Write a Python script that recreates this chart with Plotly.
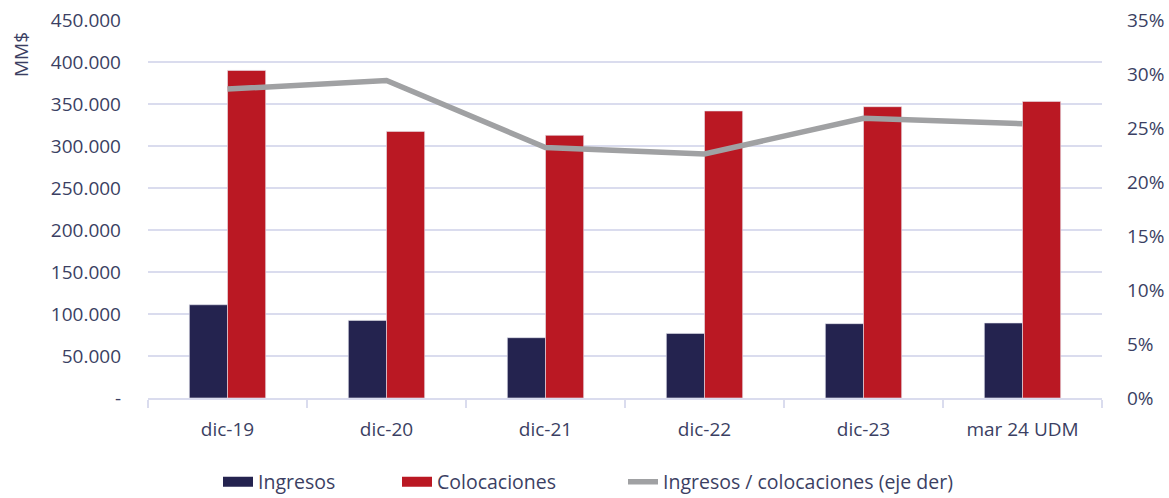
import plotly.graph_objects as go

categories = ["dic-19", "dic-20", "dic-21", "dic-22", "dic-23", "mar 24 UDM"]
ingresos = [111000, 92400, 71800, 76900, 88500, 89300]
colocaciones = [390000, 317400, 312700, 341700, 346800, 353100]
ratio = [0.286, 0.294, 0.232, 0.226, 0.259, 0.254]

left_ticks = [0, 50000, 100000, 150000, 200000, 250000, 300000, 350000, 400000, 450000]
left_labels = ["-", "50.000", "100.000", "150.000", "200.000", "250.000", "300.000", "350.000", "400.000", "450.000"]

NAVY = "#24234F"
RED = "#BA1823"
GRAY = "#A0A1A3"
TXT = "#3B3F63"
GRID = "#DADCEE"
FONT = "Open Sans"
W, H = 1169, 498

fig = go.Figure()
fig.add_trace(go.Bar(x=categories, y=ingresos, name="Ingresos", marker=dict(color=NAVY, line=dict(color="#E6E6EE", width=0.6)), showlegend=False))
fig.add_trace(go.Bar(x=categories, y=colocaciones, name="Colocaciones", marker=dict(color=RED, line=dict(color="#E6E6EE", width=0.6)), showlegend=False))
fig.add_trace(go.Scatter(x=categories, y=ratio, name="Ingresos / colocaciones (eje der)", yaxis="y2", mode="lines", line=dict(color=GRAY, width=5.5), showlegend=False))

# legend entries (each in its own legend so they can be spaced like the original)
fig.add_trace(go.Scatter(x=[None], y=[None], name="Ingresos", mode="lines", line=dict(color=NAVY, width=12), legend="legend"))
fig.add_trace(go.Scatter(x=[None], y=[None], name="Colocaciones", mode="lines", line=dict(color=RED, width=12), legend="legend2"))
fig.add_trace(go.Scatter(x=[None], y=[None], name="Ingresos / colocaciones (eje der)", mode="lines", line=dict(color=GRAY, width=5.5), legend="legend3"))

def leg(text_start_px):
    return dict(orientation="h", xref="container", yref="container", x=(text_start_px - 40) / W, xanchor="left",
                y=16 / H, yanchor="middle", font=dict(size=19.5, color=TXT), bgcolor="rgba(0,0,0,0)")

fig.update_layout(
    width=W, height=H,
    margin=dict(l=148, r=67, t=20, b=100, autoexpand=False),
    paper_bgcolor="white", plot_bgcolor="white",
    font=dict(family=FONT, size=19, color=TXT),
    barmode="group", bargap=0.52, bargroupgap=0,
    xaxis=dict(type="category", tickson="boundaries", ticks="outside", ticklen=8, tickcolor=GRID, tickwidth=1.5,
               showline=True, linecolor=GRID, linewidth=1.5, showgrid=False, ticklabelstandoff=13,
               tickfont=dict(size=19, color=TXT)),
    yaxis=dict(range=[0, 450000], tickvals=left_ticks, ticktext=left_labels, showgrid=True, gridcolor=GRID, gridwidth=1.5,
               zeroline=False, showline=False, ticks="", ticklabelstandoff=26, tickfont=dict(size=19, color=TXT)),
    yaxis2=dict(range=[0, 0.35], overlaying="y", side="right", tickformat=".0%", dtick=0.05, showgrid=False,
                zeroline=False, showline=False, ticks="", ticklabelstandoff=24, tickfont=dict(size=19, color=TXT)),
    legend=leg(258),
    legend2=leg(437),
    legend3=leg(663),
)
plot_w = W - 148 - 67
plot_h = H - 20 - 100
fig.add_annotation(text="MM$", x=(21 - 148) / plot_w, y=(H - 100 - 55) / plot_h, xref="paper", yref="paper",
                   showarrow=False, textangle=-90, xanchor="center", yanchor="middle", font=dict(size=19, color=TXT))

fig.write_html("out.html")
